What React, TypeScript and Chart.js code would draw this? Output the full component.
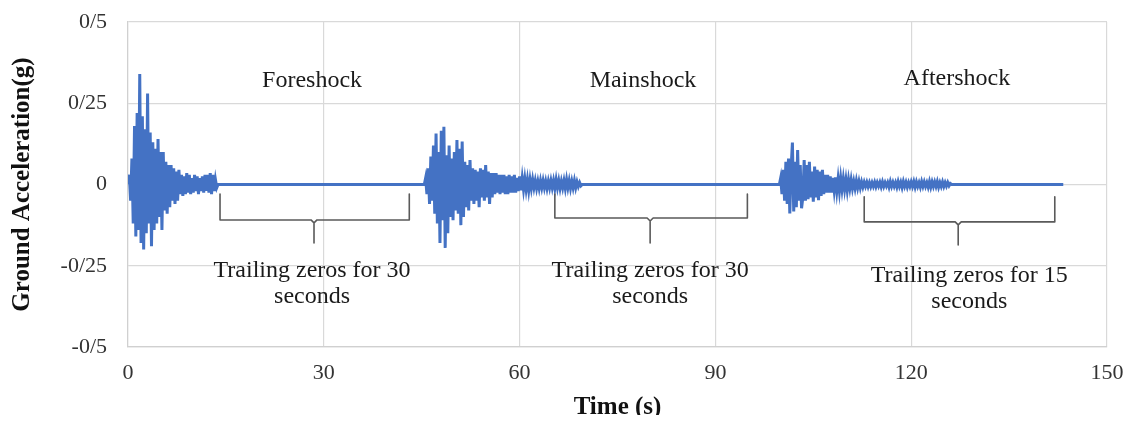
import React, { useEffect, useRef } from "react";
import { Chart, registerables } from "chart.js";

Chart.register(...registerables);

// ---- axis definitions ----
const TIME_MIN = 0;
const TIME_MAX = 150;
const TIME_STEP = 30;
const ACC_MIN = -0.5;
const ACC_MAX = 0.5;
const ACC_STEP = 0.25;

// ---- record timing (s) ----
const SAMPLE_DT = 0.2;
const FORESHOCK_START = 0;
const MAINSHOCK_START = 45.4;
const AFTERSHOCK_START = 99.8;
const RECORD_END = 143.3;

// ---- ground acceleration samples (g) ----
const foreshock = [
  0, 0.03, -0.05, 0.08, -0.12, 0.18, -0.16, 0.22, -0.14, 0.34,
  -0.18, 0.21, -0.2, 0.17, -0.15, 0.28, -0.12, 0.16, -0.19, 0.13,
  -0.14, 0.11, -0.12, 0.14, -0.1, 0.1, -0.14, 0.1, -0.08, 0.07,
  -0.09, 0.06, -0.07, 0.06, -0.05, 0.05, -0.06, 0.04, -0.05, 0.045,
  -0.03, 0.03, -0.035, 0.025, -0.03, 0.035, -0.025, 0.03, -0.03, 0.02,
  -0.025, 0.03, -0.02, 0.025, -0.03, 0.02, -0.02, 0.025, -0.025, 0.03,
  -0.02, 0.03, -0.025, 0.035, -0.03, 0.03, -0.02, 0.015, -0.01, 0,
];

const mainshock = [
  0, 0.02, -0.03, 0.05, -0.06, 0.086, -0.05, 0.12, -0.09, 0.157,
  -0.12, 0.1, -0.18, 0.165, -0.11, 0.178, -0.195, 0.09, -0.15, 0.12,
  -0.1, 0.08, -0.11, 0.1, -0.08, 0.137, -0.09, 0.11, -0.125, 0.132,
  -0.1, 0.07, -0.07, 0.06, -0.08, 0.075, -0.05, 0.05, -0.06, 0.045,
  -0.05, 0.04, -0.07, 0.05, -0.04, 0.045, -0.05, 0.06, -0.04, 0.04,
  -0.06, 0.035, -0.04, 0.035, -0.03, 0.035, -0.025, 0.03, -0.03, 0.03,
  -0.025, 0.03, -0.03, 0.025, -0.03, 0.03, -0.025, 0.025, -0.025, 0.03,
  -0.025, 0.02, -0.02, 0.025, -0.018, 0.02, -0.015, 0.018, -0.015, 0.015,
  -0.018, 0.015, -0.012, 0.015, -0.01, 0.012, -0.012, 0.01, -0.012, 0.012,
  -0.01, 0.012, -0.01, 0.01, -0.012, 0.01, -0.01, 0.012, -0.01, 0.012,
  -0.012, 0.015, -0.01, 0.012, -0.012, 0.01, -0.01, 0.012, -0.012, 0.015,
  -0.01, 0.012, -0.012, 0.01, -0.01, 0.012, -0.01, 0.008, -0.006, 0.006,
  -0.004, 0,
];

const aftershock = [
  0, 0.02, -0.03, 0.045, -0.05, 0.07, -0.06, 0.08, -0.089, 0.05,
  0.129, -0.083, 0.07, -0.07, 0.106, -0.05, 0.06, -0.073, -0.04, 0.075,
  -0.05, 0.06, -0.045, 0.07, -0.04, 0.04, -0.053, 0.055, -0.04, 0.045,
  -0.048, 0.04, -0.035, 0.045, -0.03, 0.03, -0.025, 0.03, -0.025, 0.025,
  -0.025, 0.02, -0.018, 0.022, -0.02, 0.018, -0.02, 0.02, -0.015, 0.018,
  -0.015, 0.015, -0.018, 0.015, -0.012, 0.015, -0.012, 0.01, -0.012, 0.012,
  -0.01, 0.01, -0.01, 0.008, -0.008, 0.007, -0.006, 0.007, -0.007, 0.006,
  -0.007, 0.006, -0.006, 0.007, -0.007, 0.006, -0.005, 0.007, -0.007, 0.008,
  -0.006, 0.006, -0.005, 0.006, -0.008, 0.009, -0.006, 0.007, -0.006, 0.006,
  -0.008, 0.009, -0.006, 0.007, -0.009, 0.009, -0.006, 0.007, -0.008, 0.006,
  -0.006, 0.008, -0.006, 0.009, -0.008, 0.008, -0.006, 0.006, -0.008, 0.009,
  -0.006, 0.008, -0.006, 0.006, -0.008, 0.009, -0.008, 0.008, -0.006, 0.008,
  -0.006, 0.009, -0.008, 0.006, -0.006, 0.008, -0.006, 0.006, -0.005, 0.006,
  -0.004, 0.003, 0,
];

// ---- annotations (data units) ----
const EVENT_NAMES = ["Foreshock", "Mainshock", "Aftershock"];
const EVENT_LABEL_X = [28.2, 78.9, 127.0];
const EVENT_LABEL_Y = [0.3, 0.3, 0.306];
const ZERO_FROM = [14.1, 65.4, 112.8];
const ZERO_TO = [43.1, 94.9, 142.0];
const BRACKET_MID = [28.5, 80.0, 127.2];
const BRACKET_TOP = [-0.029, -0.029, -0.038];
const BRACKET_BAR = [-0.109, -0.103, -0.115];
const BRACKET_TIP = [-0.18, -0.18, -0.186];
const NOTE_LINE1 = ["Trailing zeros for 30", "Trailing zeros for 30", "Trailing zeros for 15"];
const NOTE_LINE2 = ["seconds", "seconds", "seconds"];
const NOTE_X = [28.2, 80.0, 128.9];
const NOTE_Y1 = [-0.285, -0.285, -0.3];
const NOTE_Y2 = [-0.365, -0.365, -0.38];

const SERIF = '"Liberation Serif", "Times New Roman", serif';

function buildPoints() {
  const pts: { x: number; y: number }[] = [];
  const add = (start: number, arr: number[]) => {
    arr.forEach((v, i) => pts.push({ x: +(start + i * SAMPLE_DT).toFixed(3), y: v }));
  };
  add(FORESHOCK_START, foreshock);
  add(MAINSHOCK_START, mainshock);
  add(AFTERSHOCK_START, aftershock);
  pts.push({ x: RECORD_END, y: 0 });
  return pts;
}

const annotationPlugin = {
  id: "quakeNotes",
  afterDatasetsDraw(chart: any) {
    const { ctx } = chart;
    const xs = chart.scales.x;
    const ys = chart.scales.y;
    ctx.save();
    // event names
    ctx.fillStyle = "#1a1a1a";
    ctx.font = `24px ${SERIF}`;
    ctx.textAlign = "center";
    ctx.textBaseline = "alphabetic";
    EVENT_NAMES.forEach((name, i) => {
      ctx.fillText(name, xs.getPixelForValue(EVENT_LABEL_X[i]), ys.getPixelForValue(EVENT_LABEL_Y[i]));
    });
    // brackets
    ctx.strokeStyle = "#5a5a5a";
    ctx.lineWidth = 1.6;
    ctx.lineJoin = "round";
    ctx.lineCap = "round";
    for (let i = 0; i < ZERO_FROM.length; i++) {
      const x1 = xs.getPixelForValue(ZERO_FROM[i]);
      const x2 = xs.getPixelForValue(ZERO_TO[i]);
      const xm = xs.getPixelForValue(BRACKET_MID[i]);
      const yt = ys.getPixelForValue(BRACKET_TOP[i]);
      const yb = ys.getPixelForValue(BRACKET_BAR[i]);
      const yp = ys.getPixelForValue(BRACKET_TIP[i]);
      ctx.beginPath();
      ctx.moveTo(x1, yt);
      ctx.lineTo(x1, yb);
      ctx.lineTo(xm - 3, yb);
      ctx.lineTo(xm, yb + 3);
      ctx.lineTo(xm, yp);
      ctx.moveTo(xm, yb + 3);
      ctx.lineTo(xm + 3, yb);
      ctx.lineTo(x2, yb);
      ctx.lineTo(x2, yt);
      ctx.stroke();
    }
    // notes
    ctx.fillStyle = "#1a1a1a";
    ctx.font = `24px ${SERIF}`;
    for (let i = 0; i < NOTE_X.length; i++) {
      const x = xs.getPixelForValue(NOTE_X[i]);
      ctx.fillText(NOTE_LINE1[i], x, ys.getPixelForValue(NOTE_Y1[i]));
      ctx.fillText(NOTE_LINE2[i], x, ys.getPixelForValue(NOTE_Y2[i]));
    }
    ctx.restore();
  },
};

export default function App() {
  const canvasRef = useRef<HTMLCanvasElement | null>(null);

  useEffect(() => {
    if (!canvasRef.current) return;
    const chart = new Chart(canvasRef.current, {
      type: "line",
      data: {
        datasets: [
          {
            label: "Ground Acceleration",
            data: buildPoints(),
            borderColor: "#4472C4",
            backgroundColor: "#4472C4",
            borderWidth: 3,
            pointRadius: 0,
            tension: 0,
            fill: false,
          },
        ],
      },
      options: {
        animation: false,
        responsive: true,
        maintainAspectRatio: false,
        layout: { padding: { left: 0, top: 14, right: 16, bottom: 0 } },
        plugins: {
          legend: { display: false },
          tooltip: { enabled: false },
        },
        scales: {
          x: {
            type: "linear",
            min: TIME_MIN,
            max: TIME_MAX,
            ticks: {
              stepSize: TIME_STEP,
              color: "#333333",
              font: { family: SERIF, size: 22 },
              padding: 13,
              maxRotation: 0,
            },
            grid: { color: "#d9d9d9", lineWidth: 1.2, drawTicks: false },
            border: { color: "#d0d0d0", width: 1.2 },
            title: {
              display: true,
              text: "Time (s)",
              color: "#111111",
              font: { family: SERIF, size: 25, weight: "bold", lineHeight: 1 },
              padding: { top: 0, bottom: 2.5 },
            },
            afterFit(scale: any) {
              scale.height = 76;
              scale.paddingLeft = 0;
              scale.paddingRight = 0;
            },
          },
          y: {
            type: "linear",
            min: ACC_MIN,
            max: ACC_MAX,
            ticks: {
              stepSize: ACC_STEP,
              color: "#333333",
              font: { family: SERIF, size: 22 },
              padding: 21,
              callback: (v: any) => String(Number(v)).replace(".", "/"),
            },
            grid: { color: "#d9d9d9", lineWidth: 1.2, drawTicks: false },
            border: { color: "#d0d0d0", width: 1.2 },
            title: {
              display: true,
              text: "Ground Acceleration(g)",
              color: "#111111",
              font: { family: SERIF, size: 25, weight: "bold", lineHeight: 1 },
              padding: { top: 2.5, bottom: 0 },
            },
            afterFit(scale: any) {
              scale.width = 120;
              scale.paddingTop = 0;
              scale.paddingBottom = 0;
            },
          },
        },
      },
      plugins: [annotationPlugin],
    });
    return () => chart.destroy();
  }, []);

  return (
    <div style={{ width: 1115, height: 415, marginBottom: -8, position: "relative" }}>
      <canvas ref={canvasRef} />
    </div>
  );
}
